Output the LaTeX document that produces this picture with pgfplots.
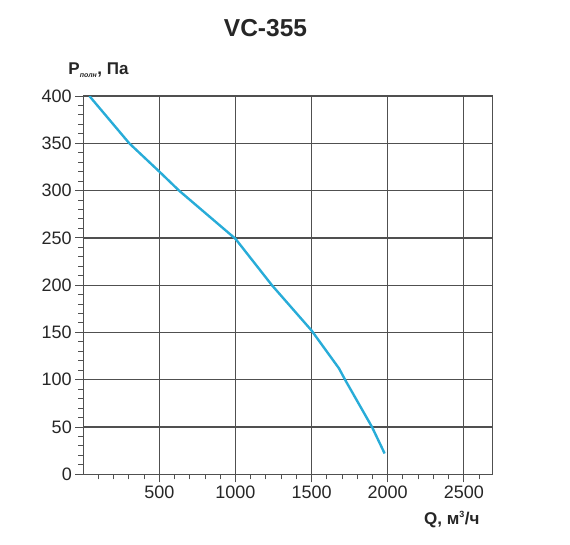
\documentclass[border=0pt]{standalone}
\usepackage{pgfplots}
\pgfplotsset{compat=1.18}
\usepackage{fontspec}
\setmainfont{Liberation Sans}
\definecolor{curve}{RGB}{40,172,216}
\definecolor{gridc}{RGB}{80,80,80}
\begin{document}
\begin{tikzpicture}
\useasboundingbox (-83.3pt,-69.7pt) rectangle (486.7pt,474.3pt);
\begin{axis}[
  at={(0pt,0pt)}, anchor=south west,
  scale only axis, width=409.4pt, height=378.3pt,
  xmin=0, xmax=2690, ymin=0, ymax=400,
  xtick={500,1000,...,2500}, minor xtick={100,200,...,2600},
  ytick={0,50,...,400}, minor ytick={0,10,...,400},
  tick pos=left, tick align=outside,
  major tick length=8pt, minor tick length=5pt,
  grid=major, major grid style={gridc, line width=1.3pt},
  axis line style={gridc, line width=1.3pt},
  every tick/.style={gridc, line width=1pt},
  tick label style={font=\fontsize{18}{21}\selectfont, text=black!85},
  /pgf/number format/assume math mode=true,
  /pgf/number format/1000 sep={},
]
\addplot[curve, line width=2.4pt, line join=round] coordinates {
  (40,400) (302,350) (500,320) (629,300) (1000,249) (1239,200)
  (1500,152) (1680,112) (1720,100) (1897,50) (1980,22)
};
\end{axis}
\node[anchor=base, font=\bfseries\fontsize{24.5}{28}\selectfont, text=black!85] at (182.2pt,437.6pt) {VC-355};
\node[anchor=base west, inner sep=0pt, font=\bfseries\fontsize{17}{20}\selectfont, text=black!85] at (-15pt,399.3pt) {P\textsubscript{\fontsize{7}{8}\selectfont\itshape полн}, Па};
\node[anchor=base west, inner sep=0pt, font=\bfseries\fontsize{17}{20}\selectfont, text=black!85] at (340.7pt,-49.7pt) {Q, м\textsuperscript{\fontsize{9}{10}\selectfont 3}/ч};
\end{tikzpicture}
\end{document}
